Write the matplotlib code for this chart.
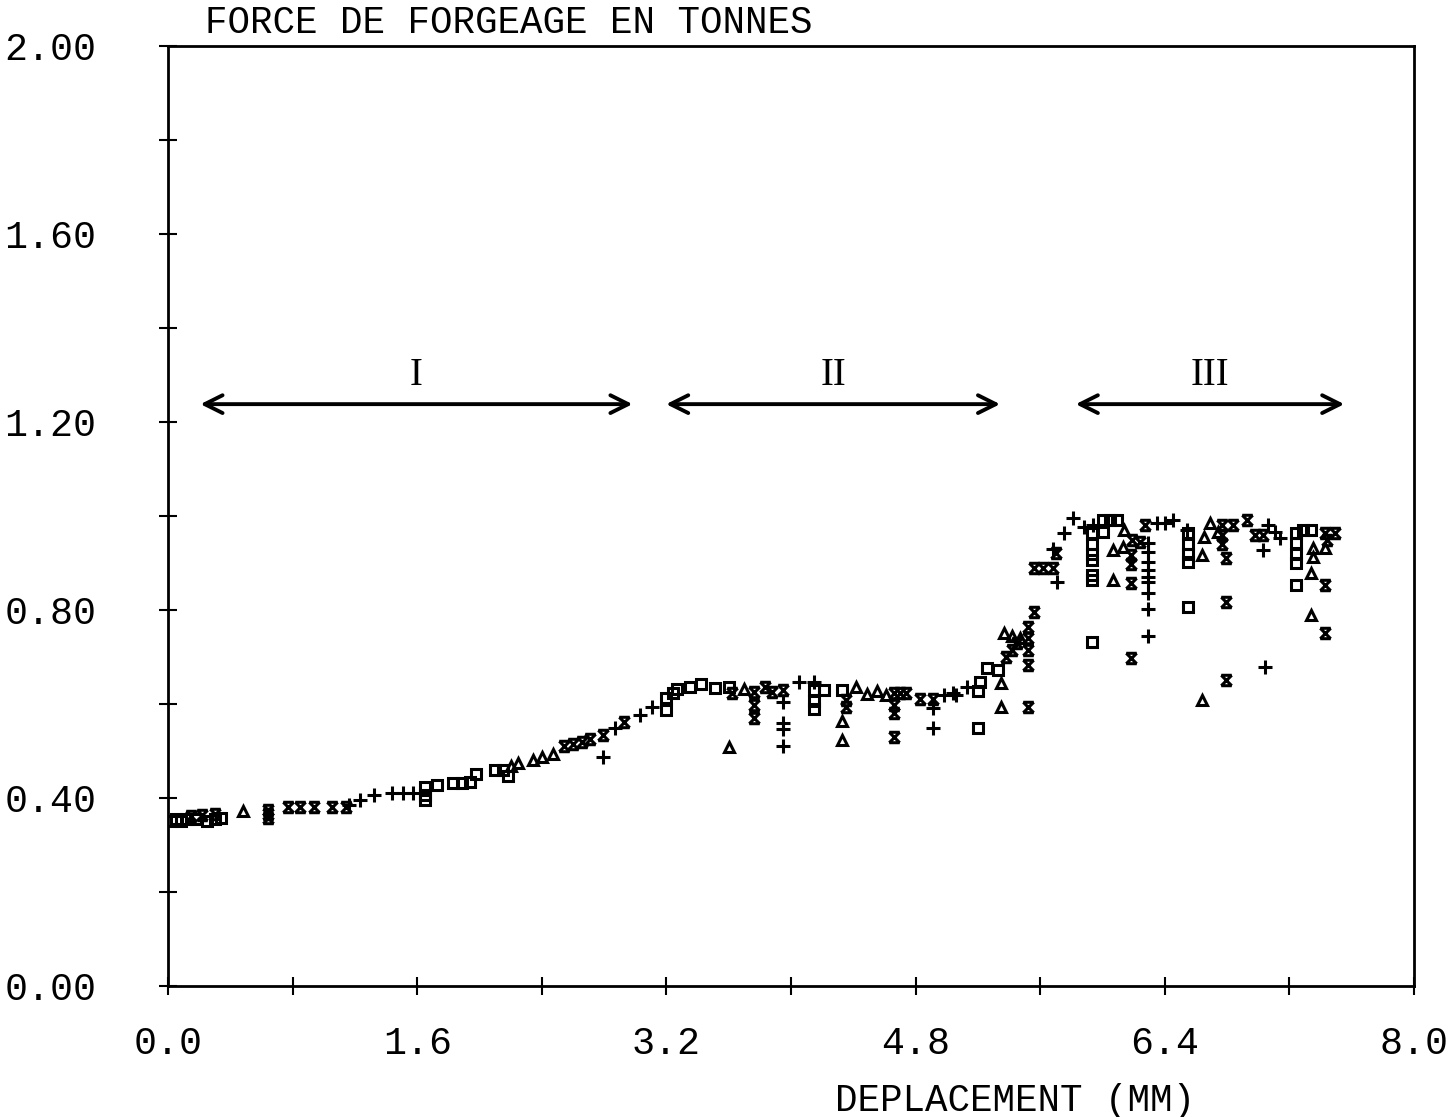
import matplotlib
matplotlib.use("Agg")
import matplotlib.pyplot as plt
from matplotlib.path import Path

plt.rcParams['font.family'] = ['Liberation Mono', 'DejaVu Sans Mono']

# --- data (deplacement mm, force tonnes) ---
sq_x = [0.02, 0.05, 0.08, 0.12, 0.18, 0.25, 0.30, 0.34, 1.65, 1.65, 1.65, 1.73, 1.83, 1.89, 1.94, 1.98, 2.10, 2.15, 2.18,
        3.20, 3.20, 3.24, 3.27, 3.35, 3.42, 3.51, 3.60, 4.15, 4.15, 4.15, 4.21, 4.33, 5.20, 5.20, 5.21, 5.26, 5.33,
        5.93, 5.93, 5.93, 5.93, 5.93, 5.93, 5.93, 6.00, 6.05, 6.09, 6.00, 6.55, 6.55, 6.55, 6.55, 6.55,
        7.24, 7.24, 7.24, 7.24, 7.24, 7.29, 7.34]
sq_y = [0.350, 0.355, 0.352, 0.356, 0.355, 0.352, 0.356, 0.358, 0.423, 0.396, 0.406, 0.428, 0.432, 0.432, 0.435, 0.451, 0.460, 0.460, 0.447,
        0.587, 0.613, 0.623, 0.632, 0.636, 0.643, 0.634, 0.636, 0.630, 0.606, 0.589, 0.630, 0.630, 0.549, 0.628, 0.647, 0.677, 0.672,
        0.963, 0.940, 0.920, 0.906, 0.874, 0.864, 0.732, 0.991, 0.991, 0.991, 0.966, 0.963, 0.941, 0.920, 0.903, 0.806,
        0.963, 0.943, 0.920, 0.900, 0.853, 0.970, 0.970]

tri_x = [0.48, 2.20, 2.25, 2.34, 2.40, 2.47,
         3.60, 3.70, 4.33, 4.33, 4.42, 4.49, 4.55, 4.61, 5.35, 5.35, 5.37, 5.42, 5.47,
         6.07, 6.13, 6.07, 6.14, 6.64, 6.64, 6.65, 6.69, 6.74, 7.35, 7.35, 7.34, 7.34, 7.43]
tri_y = [0.372, 0.468, 0.474, 0.481, 0.487, 0.494,
         0.509, 0.632, 0.564, 0.523, 0.636, 0.621, 0.628, 0.619, 0.645, 0.594, 0.750, 0.745, 0.740,
         0.928, 0.934, 0.864, 0.970, 0.917, 0.609, 0.955, 0.985, 0.966, 0.913, 0.932, 0.879, 0.789, 0.932]

star_x = [0.15, 0.22, 0.30, 0.64, 0.64, 0.64, 0.77, 0.85, 0.94, 1.05, 1.14, 2.54, 2.60, 2.66, 2.71, 2.79, 2.93,
          3.62, 3.76, 3.76, 3.76, 3.83, 3.88, 3.95, 4.35, 4.35, 4.66, 4.70, 4.74, 4.66, 4.66, 4.66, 4.83, 4.91,
          5.38, 5.42, 5.45, 5.52, 5.52, 5.52, 5.52, 5.52, 5.56,
          5.56, 5.62, 5.68, 5.70, 6.18, 6.18, 6.18, 6.18, 6.19, 6.24, 6.27, 6.77, 6.77, 6.77, 6.79, 6.79, 6.79,
          6.84, 6.93, 6.98, 7.03, 7.43, 7.43, 7.43, 7.49, 7.44]
star_y = [0.362, 0.364, 0.366, 0.357, 0.365, 0.374, 0.380, 0.380, 0.380, 0.380, 0.380, 0.510, 0.515, 0.520, 0.525, 0.534, 0.562,
          0.623, 0.626, 0.598, 0.570, 0.636, 0.626, 0.630, 0.608, 0.594, 0.623, 0.623, 0.623, 0.598, 0.581, 0.530, 0.611, 0.611,
          0.700, 0.715, 0.730, 0.594, 0.683, 0.764, 0.740, 0.715, 0.796,
          0.889, 0.889, 0.889, 0.921, 0.917, 0.898, 0.857, 0.698, 0.949, 0.945, 0.981, 0.981, 0.960, 0.940, 0.910, 0.817, 0.651,
          0.981, 0.991, 0.960, 0.960, 0.853, 0.751, 0.963, 0.963, 0.949]

plus_x = [1.16, 1.23, 1.32, 1.44, 1.51, 1.57, 2.79, 2.87, 3.03, 3.11,
          3.95, 3.95, 3.95, 3.95, 4.05, 4.15, 4.91, 4.91, 4.98, 5.04, 5.06, 5.13,
          5.68, 5.71, 5.75, 5.81, 5.88, 5.94, 6.29, 6.29, 6.29, 6.29, 6.29, 6.29, 6.29, 6.29, 6.29,
          6.35, 6.40, 6.45, 6.54, 7.03, 7.06, 7.04, 7.11, 7.14]
plus_y = [0.385, 0.396, 0.406, 0.410, 0.410, 0.410, 0.487, 0.549, 0.577, 0.594,
          0.604, 0.560, 0.547, 0.511, 0.647, 0.647, 0.591, 0.549, 0.619, 0.623, 0.620, 0.636,
          0.930, 0.860, 0.963, 0.995, 0.977, 0.981, 0.943, 0.923, 0.902, 0.885, 0.870, 0.860, 0.836, 0.802, 0.745,
          0.985, 0.985, 0.991, 0.970, 0.928, 0.981, 0.679, 0.966, 0.953]

# zones on the curve
zone_names = ['I', 'II', 'III']
zone_start = [0.19, 3.18, 5.81]
zone_end = [3.00, 5.36, 7.57]

# plotter style star: X with bars top and bottom
star_path = Path([(-1, 1), (1, 1), (-1, -1), (1, -1), (-1, 1), (1, -1), (1, 1), (-1, -1)],
                 [Path.MOVETO, Path.LINETO, Path.MOVETO, Path.LINETO,
                  Path.MOVETO, Path.LINETO, Path.MOVETO, Path.LINETO])

fig = plt.figure(figsize=(14.5, 11.17), dpi=100)
ax = fig.add_axes([0.1159, 0.1173, 0.8593, 0.8415])

kw = dict(linestyle='none', color='black', mfc='none', mew=2.2)
ax.plot(plus_x, plus_y, marker='+', ms=10, **kw)
ax.plot(sq_x, sq_y, marker='s', ms=7.5, **kw)
ax.plot(tri_x, tri_y, marker='^', ms=6.5, **kw)
ax.plot(star_x, star_y, marker=star_path, ms=7.5, **kw)

for name, a, b in zip(zone_names, zone_start, zone_end):
    ax.annotate('', xy=(b, 1.238), xytext=(a, 1.238),
                arrowprops=dict(arrowstyle='<->', lw=2.8, color='black', mutation_scale=32))
    ax.text((a + b) / 2, 1.30, name, ha='center', va='center', fontsize=28,
            family=['Liberation Serif', 'DejaVu Serif'])

ax.set_xlim(0, 8.0)
ax.set_ylim(0, 2.0)
ax.set_xticks([i * 0.8 for i in range(11)])
ax.set_xticklabels(['0.0' if i == 0 else ('%.1f' % (i * 0.8) if i % 2 == 0 else '') for i in range(11)])
ax.set_yticks([i * 0.2 for i in range(11)])
ax.set_yticklabels(['%.2f' % (i * 0.2) if i % 2 == 0 else '' for i in range(11)])
ax.tick_params(direction='inout', length=13, width=1.5, labelsize=27.5)
ax.tick_params(axis='y', pad=45)
ax.tick_params(axis='x', pad=22)
for s in ax.spines.values():
    s.set_linewidth(2)

fig.text(205 / 1450, 1 - 23 / 1117, 'FORCE DE FORGEAGE EN TONNES', ha='left', va='center', fontsize=27)
fig.text(1015 / 1450, 1 - 1101 / 1117, 'DEPLACEMENT (MM)', ha='center', va='center', fontsize=27)

fig.savefig('out.png', dpi=100)
